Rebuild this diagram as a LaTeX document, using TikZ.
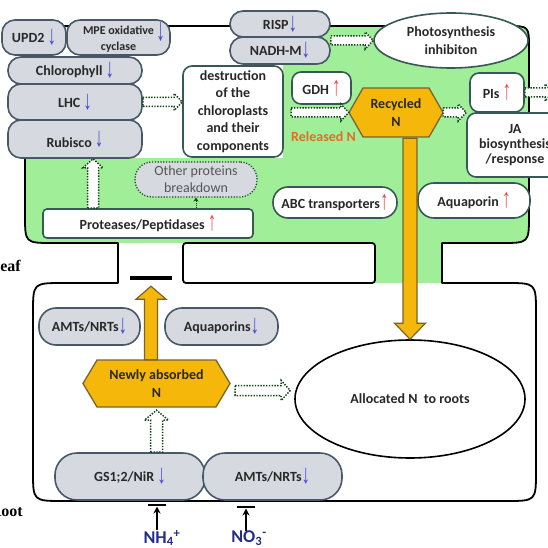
\documentclass[tikz,border=0pt]{standalone}
\usepackage{fontspec}
\usepackage{graphicx}
\setmainfont{Carlito}
\newfontfamily\arrfont{Liberation Sans}
\newfontfamily\serifb{Liberation Serif}
\usetikzlibrary{calc,shapes.geometric,arrows.meta}
\definecolor{leafgreen}{RGB}{160,238,152}
\definecolor{boxgray}{RGB}{214,218,224}
\definecolor{grayborder}{RGB}{72,88,104}
\definecolor{wborder}{RGB}{55,88,85}
\definecolor{orangeN}{RGB}{245,184,10}
\definecolor{orangeB}{RGB}{120,100,45}
\definecolor{dotgreen}{RGB}{18,65,28}
\definecolor{arrblue}{RGB}{70,70,210}
\definecolor{arrred}{RGB}{225,75,75}
\definecolor{relorange}{RGB}{225,110,35}
\definecolor{ionblue}{RGB}{35,45,140}
\definecolor{othertext}{RGB}{85,85,85}
\definecolor{txt}{RGB}{40,40,40}
\newcommand{\arrdn}{{\arrfont\mdseries\fontsize{17}{17}\selectfont\color{arrblue}\raisebox{-2pt}{\scalebox{1}[1.6]{↓}}}}
\newcommand{\arrupr}{{\arrfont\mdseries\fontsize{17}{17}\selectfont\color{arrred}\raisebox{-1pt}{\scalebox{1}[1.6]{↑}}}}
\newcommand{\bigdn}{{\arrfont\mdseries\fontsize{18}{18}\selectfont\color{arrblue}\scalebox{1}[1.8]{↓}}}
% block arrows: start, end, style, shaft half width, head half width, head length
\newcommand{\arrR}[6]{\draw[#3] let \p1=#1, \p2=#2 in (\x1,\y1+#4pt) -- (\x2-#6pt,\y1+#4pt) -- (\x2-#6pt,\y1+#5pt) -- (\x2,\y1) -- (\x2-#6pt,\y1-#5pt) -- (\x2-#6pt,\y1-#4pt) -- (\x1,\y1-#4pt) -- cycle;}
\newcommand{\arrU}[6]{\draw[#3] let \p1=#1, \p2=#2 in (\x1-#4pt,\y1) -- (\x1-#4pt,\y2-#6pt) -- (\x1-#5pt,\y2-#6pt) -- (\x1,\y2) -- (\x1+#5pt,\y2-#6pt) -- (\x1+#4pt,\y2-#6pt) -- (\x1+#4pt,\y1) -- cycle;}
\newcommand{\arrD}[6]{\draw[#3] let \p1=#1, \p2=#2 in (\x1-#4pt,\y1) -- (\x1-#4pt,\y2+#6pt) -- (\x1-#5pt,\y2+#6pt) -- (\x1,\y2) -- (\x1+#5pt,\y2+#6pt) -- (\x1+#4pt,\y2+#6pt) -- (\x1+#4pt,\y1) -- cycle;}
% hexagon node: name, centre, width, height, indent, text
\newcommand{\hexnode}[6]{%
 \coordinate (#1c) at #2;
 \path[hexshape] ($(#1c)+(-#3/2,0)$) -- ($(#1c)+(-#3/2+#5,-#4/2)$) -- ($(#1c)+(#3/2-#5,-#4/2)$) -- ($(#1c)+(#3/2,0)$) -- ($(#1c)+(#3/2-#5,#4/2)$) -- ($(#1c)+(-#3/2+#5,#4/2)$) -- cycle;
 \node[lab, align=center, inner sep=0pt, text=txt, sz={#3}{#4}] (#1) at (#1c) {#6};}
\begin{document}
\begin{tikzpicture}[x=1pt,y=-1pt,
 lab/.style={font=\bfseries\fontsize{14}{17.5}\selectfont},
 sz/.style 2 args={minimum width=#1pt, minimum height=#2pt},
 graybox/.style={draw=grayborder, fill=boxgray, line width=1.6pt, rounded corners=13pt, inner sep=0pt, align=center, lab, text=txt},
 whitebox/.style={draw=wborder, fill=white, line width=1.6pt, rounded corners=9pt, inner sep=0pt, align=center, lab, text=txt},
 outline/.style={draw=black, line width=1.8pt, line join=round},
 dotarr/.style={draw=dotgreen, fill=white, line width=1.5pt, dash pattern=on 1.4pt off 1.4pt},
 orangearr/.style={draw=orangeB, fill=orangeN, line width=1.2pt},
 hexshape/.style={draw=orangeB, fill=orangeN, line width=1.3pt},
 ion/.style={font=\bfseries\fontsize{18}{18}\selectfont, text=ionblue, inner sep=0pt},
 organ/.style={font=\serifb\bfseries\fontsize{16}{16}\selectfont, inner sep=0pt, anchor=east},
]
\useasboundingbox (0,0) rectangle (547,548);
\fill[white] (0,0) rectangle (547,548);
% green leaf
\fill[leafgreen] (53,243) .. controls (25,243) .. (25,215) -- (25,48) .. controls (25,26) .. (47,26) -- (507,26) .. controls (529,26) .. (529,48) -- (529,215) .. controls (529,243) .. (501,243) -- (442,243) -- (442,283) -- (375,283) -- (375,243) -- cycle;
\fill[white] (0,0) rectangle (283,158);
% outline of leaf and root
\draw[outline] (118,283) -- (118,243) -- (53,243) .. controls (25,243) .. (25,215) -- (25,48) .. controls (25,26) .. (47,26) -- (507,26) .. controls (529,26) .. (529,48) -- (529,215) .. controls (529,243) .. (501,243) -- (442,243) -- (442,283) -- (506,283) .. controls (536,283) .. (536,313) -- (536,471) .. controls (536,501) .. (506,501) -- (63,501) .. controls (33,501) .. (33,471) -- (33,313) .. controls (33,283) .. (63,283) -- cycle;
\draw[outline, fill=white, rounded corners=3pt] (183,243) rectangle (375,283);
% labels of organs
\node[organ] (leaflbl) at (21,266) {Leaf};
\node[organ] (rootlbl) at (23,511) {Root};
% leaf boxes
\node[graybox, sz={64}{35}] (upd2) at (34,37.5) {UPD2 \arrdn};
\node[graybox, sz={103}{35}, font=\bfseries\fontsize{12}{13.5}\selectfont] (mpe) at (118.5,37.5) {MPE oxidative\rlap{\,\raisebox{-6pt}{\bigdn}}\\cyclase};
\node[graybox, sz={134}{27}] (chl) at (75,70.5) {Chlorophyll \arrdn};
\node[graybox, sz={134}{36}] (lhc) at (75,102) {LHC \arrdn};
\node[graybox, sz={134}{38}] (rub) at (75,139) {Rubisco \raisebox{3pt}{\arrdn}};
\node[graybox, sz={100}{26}] (risp) at (280,24) {RISP\arrdn};
\node[graybox, sz={100}{27}] (nadh) at (280,50.5) {NADH-M\arrdn};
\node[whitebox, sz={100}{91}] (destr) at (233,111.5) {destruction\\of the\\chloroplasts\\and their\\components};
\node[whitebox, sz={59}{32}] (gdh) at (321.5,88) {GDH \arrupr};
\node[ellipse, draw=wborder, fill=white, line width=1.6pt, inner sep=0pt, sz={154}{55}, align=center, lab, text=txt] (photo) at (451,40.5) {Photosynthesis\\inhibiton};
\node[whitebox, sz={54}{39}] (pis) at (497,92.5) {PIs \arrupr};
\node[whitebox, sz={96}{64}, font=\bfseries\fontsize{14}{15}\selectfont] (ja) at (515,145) {JA\\biosynthesis\\/response};
\node[whitebox, sz={124}{31}, rounded corners=15pt] (abc) at (335,202.5) {ABC transporters\arrupr};
\node[whitebox, sz={112}{35}, rounded corners=16pt] (aqua) at (474,200.5) {Aquaporin \arrupr};
\node[whitebox, sz={210}{29}, rounded corners=4pt] (prot) at (148,223.5) {Proteases/Peptidases \arrupr};
\node[draw=dotgreen, fill=boxgray, line width=1.2pt, dash pattern=on 1.2pt off 1.6pt, rounded corners=17pt, inner sep=0pt, sz={122}{35}, align=center, font=\fontsize{14}{17}\selectfont, text=othertext] (other) at (196,179.5) {Other proteins\\breakdown};
\node[lab, text=relorange, inner sep=0pt] (reln) at (323.5,137) {Released N};
% root
\node[graybox, sz={101}{37}, rounded corners=17pt] (amt1) at (89.5,326.5) {AMTs/NRTs\arrdn};
\node[graybox, sz={113}{37}, rounded corners=17pt] (aquas) at (221.5,326.5) {Aquaporins\arrdn};
\node[graybox, sz={150}{47}, rounded corners=22pt] (gs1) at (130,476.5) {GS1;2/NiR \arrdn};
\node[graybox, sz={139}{47}, rounded corners=22pt] (amt2) at (272.5,476.5) {AMTs/NRTs\arrdn};
\node[ellipse, draw=black, fill=white, line width=1.6pt, inner sep=0pt, sz={230}{118}, lab, text=txt] (alloc) at (410,399) {Allocated N\ \ to roots};
\node[fill=black, inner sep=0pt, sz={42}{4}] (bar) at (151,278) {};
\node[ion] (nh4) at (162,538) {NH\textsubscript{4}\textsuperscript{+}};
\node[ion] (no3) at (249,538) {NO\textsubscript{3}\textsuperscript{-}};
\coordinate (nh4bar) at (157,505);
\coordinate (no3bar) at (246,507);
% hexagons
\hexnode{rec}{(396,112.5)}{94}{49}{14}{Recycled\\N}
\hexnode{newly}{(156.5,383.5)}{147}{47}{14}{Newly absorbed\\N}
% connectors
\coordinate (offR) at (553,92.5);
\coordinate (pr1) at (93,200);
\arrR{(lhc.east)}{(destr.west)}{dotarr}{4.5}{8.5}{8}
\arrR{(nadh.east |- photo.west)}{(photo.west)}{dotarr}{4.5}{8.5}{8}
\arrR{(gdh.west |- rec.west)}{(rec.west)}{dotarr}{4.5}{8.5}{8}
\arrR{(rec.east)}{(ja.west)}{dotarr}{4.5}{8.5}{8}
\arrR{(pis.east)}{(offR)}{dotarr}{4.5}{8.5}{8}
\arrU{(prot.north -| pr1)}{(rub.south -| pr1)}{dotarr}{5.5}{10}{9}
\draw[dotgreen, dash pattern=on 1pt off 1pt, line width=1pt, -{Stealth[length=4pt,width=5pt]}] (prot.north -| other.south) -- (other.south);
\arrU{(gs1.north -| newly)}{($(newly.south)+(0,3)$)}{dotarr}{6}{12}{10}
\arrR{($(newly.east)+(5,7)$)}{($(alloc.west)+(-4,0)$)}{dotarr}{5}{10}{9}
\arrD{($(alloc.north |- rec.south)+(0,1)$)}{(alloc.north)}{orangearr}{7}{15.5}{16}
\arrU{(bar |- newly.north)}{($(bar.south)+(0,6)$)}{orangearr}{6.5}{15}{13}
\draw[line width=1.3pt, -{Stealth[length=7pt,width=7pt]}] (nh4.north -| nh4bar) -- ($(nh4bar)+(0,1.5)$);
\draw[line width=1.6pt] ($(nh4bar)+(-9,0)$) -- ($(nh4bar)+(9,0)$);
\draw[line width=1.3pt, -{Stealth[length=7pt,width=7pt]}] (no3.north -| no3bar) -- ($(no3bar)+(0,1.5)$);
\draw[line width=1.6pt] ($(no3bar)+(-9,0)$) -- ($(no3bar)+(9,0)$);
\end{tikzpicture}
\end{document}
